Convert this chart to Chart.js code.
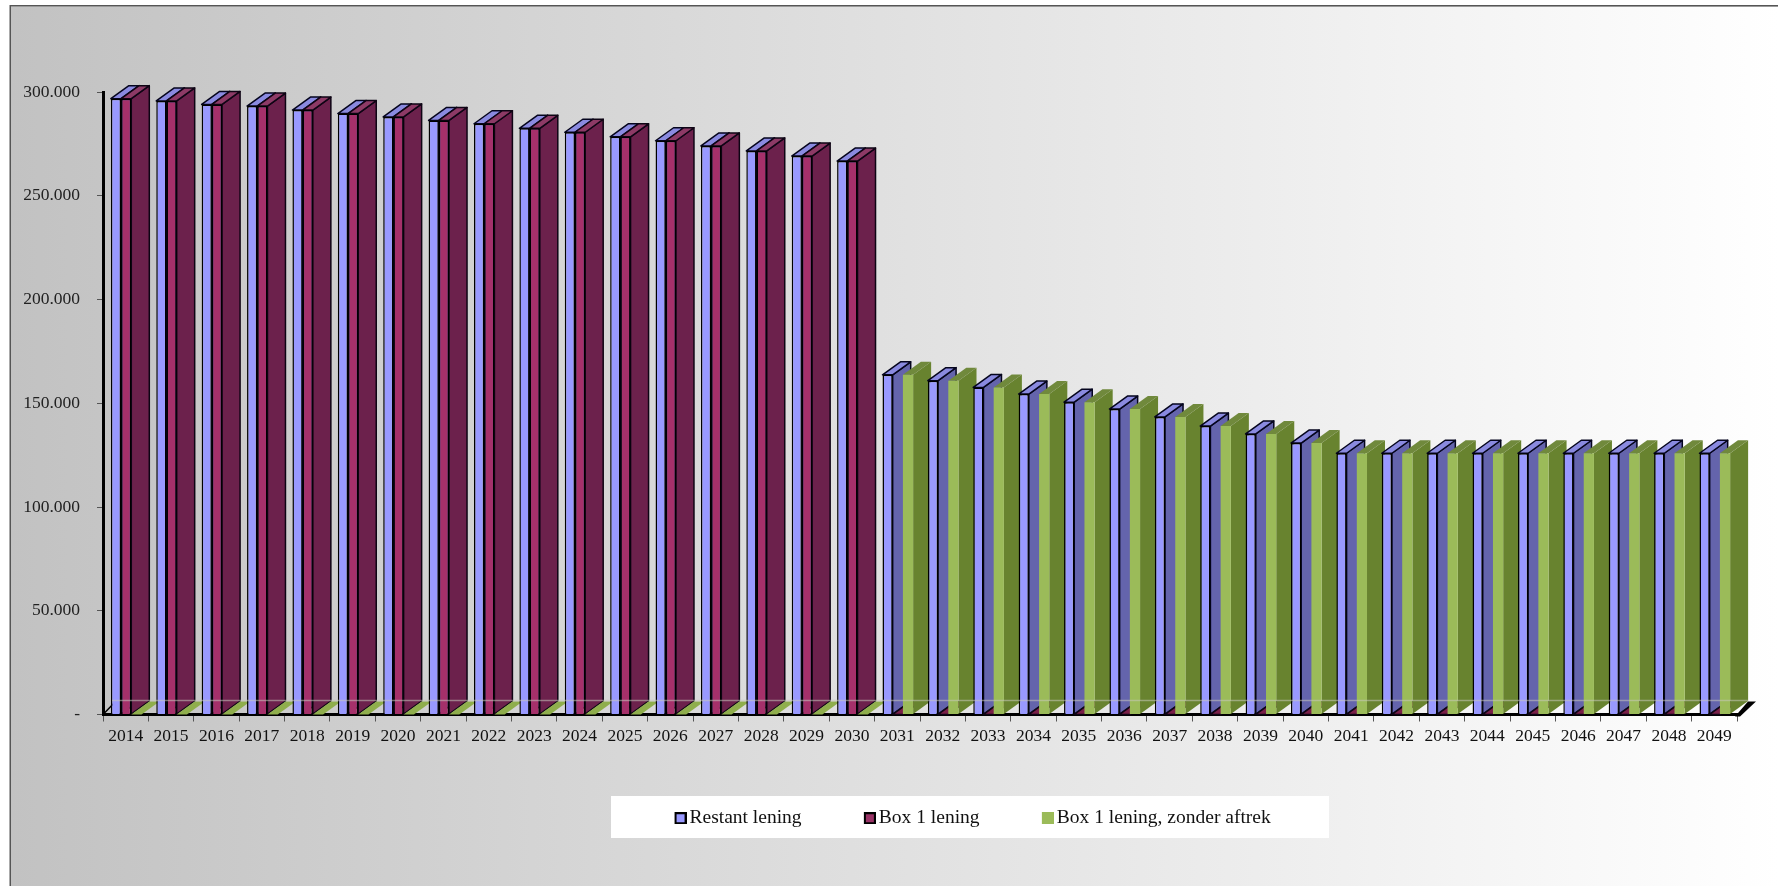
<!DOCTYPE html>
<html><head><meta charset="utf-8">
<style>html,body{margin:0;padding:0;background:#fff;overflow:hidden}canvas{display:block}</style>
<script src="https://cdn.jsdelivr.net/npm/chart.js@4"></script>
</head><body><div style="width:1778px;height:886px"><canvas id="c" width="1778" height="886"></canvas></div>
<script>
const years = ['2014','2015','2016','2017','2018','2019','2020','2021','2022','2023','2024','2025','2026','2027','2028','2029','2030','2031','2032','2033','2034','2035','2036','2037','2038','2039','2040','2041','2042','2043','2044','2045','2046','2047','2048','2049'];
const restantLening = [296800,295700,294000,293200,291300,289600,288000,286300,284700,282500,280600,278400,276500,274000,271600,269100,266700,163700,160900,157600,154400,150500,147200,143400,139000,135200,130800,125900,125900,125900,125900,125900,125900,125900,125900,125900];
const box1Lening = [296800,295700,294000,293200,291300,289600,288000,286300,284700,282500,280600,278400,276500,274000,271600,269100,266700,0,0,0,0,0,0,0,0,0,0,0,0,0,0,0,0,0,0,0];
const box1ZonderAftrek = [0,0,0,0,0,0,0,0,0,0,0,0,0,0,0,0,0,163700,160900,157600,154400,150500,147200,143400,139000,135200,130800,125900,125900,125900,125900,125900,125900,125900,125900,125900];
const seriesNames = ['Restant lening','Box 1 lening','Box 1 lening, zonder aftrek'];
const yTicks = [0,50000,100000,150000,200000,250000,300000];

const FONT = '"Liberation Serif", serif';
const DX = 18, DY = -13;
const faces = [
  {front:'#9999ff', side:'#6464ac', top:'#8a8ae0', tile:'#8a8ae0', line:'#05051e'},
  {front:'#a5306a', side:'#6c214c', top:'#8d3a66', tile:'#7a1f48', line:'#0e0414'},
  {front:'#9bbb59', side:'#68832f', top:'#70893c', tile:'#8fae4c', line:null}
];

function swatch(fill, border){
  const c = document.createElement('canvas'); c.width = 15; c.height = 12;
  const x = c.getContext('2d');
  x.fillStyle = border || fill; x.fillRect(3,0,12,12);
  x.fillStyle = fill; if (border) x.fillRect(5,2,8,8);
  return c;
}
const legendIcons = [swatch('#9999ff','#000'), swatch('#993366','#000'), swatch('#9bbb59',null)];

const scene3d = {
  id:'scene3d',
  afterLayout(chart){
    chart.legend.left += 106; chart.legend.right += 106;
  },
  beforeDraw(chart){
    const ctx = chart.ctx, W = chart.width, H = chart.height;
    ctx.save();
    ctx.fillStyle = '#fff'; ctx.fillRect(0,0,W,H);
    const g = ctx.createLinearGradient(11,0,W,0);
    g.addColorStop(0,'#c2c2c2'); g.addColorStop(1,'#ffffff');
    ctx.fillStyle = g; ctx.fillRect(11,6,W-11,H-6);
    ctx.fillStyle = '#aaaaaa'; ctx.fillRect(9,5,1,H-5);
    ctx.fillStyle = '#555555'; ctx.fillRect(10,5,1,H-5);
    ctx.fillStyle = '#999999'; ctx.fillRect(11,6,W-11,1);
    ctx.fillStyle = '#555555'; ctx.fillRect(10,5,W-10,1);
    ctx.fillStyle = '#fff'; ctx.fillRect(611,796,718,42);
    ctx.restore();
  },
  beforeDatasetsDraw(chart){
    const ctx = chart.ctx, a = chart.chartArea;
    ctx.save();
    ctx.strokeStyle = '#000'; ctx.lineWidth = 1.5;
    ctx.beginPath(); ctx.moveTo(a.left,a.bottom); ctx.lineTo(a.left+DX*0.7,a.bottom+DY); ctx.stroke();
    ctx.lineJoin = 'round';
    const n = chart.data.labels.length;
    for (let i=0;i<n;i++){
      for (let d=0;d<3;d++){
        const el = chart.getDatasetMeta(d).data[i], f = faces[d];
        const l = el.x-el.width/2, r = el.x+el.width/2, t = el.y, b = el.base;
        const flat = b-t<=0.5;
        if (!flat){
          ctx.beginPath(); ctx.moveTo(r,t); ctx.lineTo(r+DX,t+DY); ctx.lineTo(r+DX,b+DY); ctx.lineTo(r,b); ctx.closePath();
          ctx.fillStyle = f.side; ctx.fill();
          if (f.line){ctx.strokeStyle=f.line;ctx.lineWidth=1.5;ctx.stroke();}
        }
        ctx.beginPath(); ctx.moveTo(l,t); ctx.lineTo(l+DX,t+DY); ctx.lineTo(r+DX,t+DY); ctx.lineTo(r,t); ctx.closePath();
        ctx.fillStyle = flat ? f.tile : f.top; ctx.fill();
        if (f.line){ctx.strokeStyle=f.line;ctx.lineWidth=1.5;ctx.stroke();}
      }
    }
    ctx.restore();
  },
  afterDatasetsDraw(chart){
    const ctx = chart.ctx, a = chart.chartArea;
    ctx.save();
    ctx.strokeStyle = 'rgba(200,200,190,0.55)'; ctx.lineWidth = 1.5;
    ctx.beginPath(); ctx.moveTo(a.left+9,a.bottom+DY-1); ctx.lineTo(a.right+11,a.bottom+DY-1); ctx.stroke();
    ctx.fillStyle = '#000';
    ctx.beginPath(); ctx.moveTo(a.right-2,a.bottom+2); ctx.lineTo(a.right+11,a.bottom-13); ctx.lineTo(a.right+19,a.bottom-13); ctx.lineTo(a.right+3,a.bottom+2); ctx.closePath(); ctx.fill();
    ctx.restore();
  }
};

new Chart(document.getElementById('c'),{
  type:'bar',
  data:{labels:years,datasets:[
    {label:seriesNames[0],data:restantLening,xAxisID:'xb',backgroundColor:faces[0].front,borderColor:'#000',borderWidth:1.5,order:1},
    {label:seriesNames[1],data:box1Lening,xAxisID:'xb',backgroundColor:faces[1].front,borderColor:'#000',borderWidth:1.5,order:2},
    {label:seriesNames[2],data:box1ZonderAftrek,xAxisID:'xb',backgroundColor:faces[2].front,borderWidth:0,order:3}
  ]},
  plugins:[scene3d],
  options:{
    responsive:false,animation:false,
    layout:{padding:{top:92,right:41,left:0,bottom:48}},
    datasets:{bar:{categoryPercentage:0.675,barPercentage:1}},
    plugins:{
      title:{display:false},tooltip:{enabled:false},
      legend:{
        position:'bottom',
        labels:{
          font:{family:FONT,size:19.5},color:'#111',padding:66,usePointStyle:true,pointStyleWidth:1.5,
          generateLabels:c=>c.data.datasets.map((d,i)=>({text:d.label,pointStyle:legendIcons[i],datasetIndex:i,fontColor:'#111',lineWidth:0}))
        }
      }
    },
    scales:{
      x:{type:'category',position:'bottom',offset:true,
        grid:{display:true,drawOnChartArea:false,drawTicks:true,tickLength:7,tickColor:'#555',offset:true},
        border:{display:true,color:'#000',width:3},
        ticks:{font:{family:FONT,size:17.5},color:'#111',maxRotation:0,autoSkip:false,padding:4},
        afterFit:s=>{s.height=28}
      },
      xb:{type:'linear',display:false,offset:false,position:'bottom',min:2013.489,max:2049.489,grid:{display:false,offset:false}},
      y:{type:'linear',min:0,max:300000,position:'left',
        afterBuildTicks:s=>{s.ticks=yTicks.map(v=>({value:v}))},
        grid:{drawOnChartArea:false,drawTicks:true,tickLength:6,tickColor:'#555'},
        border:{display:true,color:'#000',width:3},
        ticks:{font:{family:FONT,size:17.5},color:'#222',padding:17,
          callback:v=>v===0?'-':String(v).replace(/\B(?=(\d{3})+$)/g,'.')},
        afterFit:s=>{s.width=103}
      }
    }
  }
});
</script></body></html>
